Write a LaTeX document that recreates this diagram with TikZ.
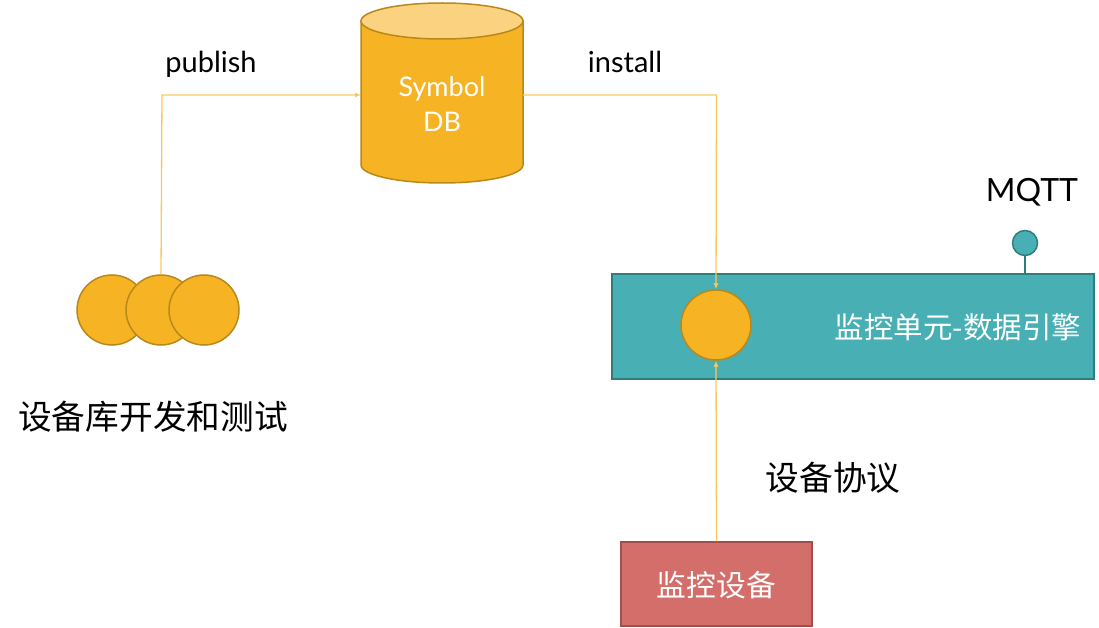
\documentclass[tikz,border=0pt]{standalone}
\usepackage{fontspec}
\setmainfont{Lato}
\newfontfamily\cjk{Noto Sans CJK SC}
\usetikzlibrary{arrows.meta,shapes.geometric}
\definecolor{gold}{HTML}{F6B324}
\definecolor{goldtop}{HTML}{FBD27F}
\definecolor{goldedge}{HTML}{B8891A}
\definecolor{linec}{HTML}{FBC75A}
\definecolor{teal}{HTML}{48B0B4}
\definecolor{tealedge}{HTML}{2E7D7F}
\definecolor{redf}{HTML}{D46E6A}
\definecolor{rede}{HTML}{A0504A}
\tikzset{
  coin/.style={circle,fill=gold,draw=goldedge,line width=1.5pt,minimum size=70pt,inner sep=0pt},
  conn/.style={draw=linec,line width=1.3pt},
  arr/.style={conn,-{Latex[length=6pt,width=5pt]}},
  lbl/.style={font=\fontsize{29}{33}\selectfont,text=black},
  cjklbl/.style={font=\cjk\fontsize{33.7}{38}\selectfont,text=black},
}
\begin{document}
\begin{tikzpicture}[x=1pt,y=-1pt]
\useasboundingbox (0,0) rectangle (1099,628);
% cylinder
\path[fill=gold,draw=goldedge,line width=1.5pt]
  (361,21) -- (361,165) arc[start angle=180,end angle=0,x radius=81,y radius=18] -- (523,21) -- cycle;
\path[fill=goldtop,draw=goldedge,line width=1.5pt] (442,21) ellipse[x radius=81,y radius=18];
\node[inner sep=0pt,minimum width=162pt,minimum height=120pt] (db) at (442,95) {};
\node[font=\fontsize{27}{35}\selectfont,text=white,align=center] (dbt) at (442,104) {Symbol\\DB};
% left coins
\node[coin] (c1) at (112,310) {};
\node[coin] (c2) at (161,310) {};
\node[coin] (c3) at (204,310) {};
\node[cjklbl] (devlib) at (153,417) {设备库开发和测试};
% publish
\coordinate (pubcorner) at (162,95);
\draw[arr] (c2.north) -- (pubcorner) -- (361,95);
\node[lbl] (pub) at (211,64) {publish};
% teal box
\node[draw=tealedge,fill=teal,line width=2pt,minimum width=482pt,minimum height=105pt,inner sep=0pt] (unit) at (853,326.5) {};
\node[font=\cjk\fontsize{29.5}{33}\selectfont,text=white] (unitt) at (958,327) {监控单元-数据引擎};
\node[coin] (ic) at (716,325) {};
% install
\coordinate (instcorner) at (716.5,95);
\draw[arr] (523,95) -- (instcorner) -- (ic.north);
\node[lbl] (inst) at (625,62) {install};
% MQTT
\node[circle,fill=teal,draw=tealedge,line width=1.5pt,minimum size=25pt,inner sep=0pt] (mq) at (1025,243) {};
\draw[draw=tealedge,line width=2pt] (mq.south) -- (1025,274);
\node[font=\fontsize{32}{36}\selectfont] (mqt) at (1032,192) {MQTT};
% device
\node[draw=rede,fill=redf,line width=1.5pt,minimum width=191pt,minimum height=84pt,inner sep=0pt] (dev) at (716.5,584) {};
\node[font=\cjk\fontsize{29.8}{33}\selectfont,text=white] (devt) at (716.5,585) {监控设备};
\draw[arr] (dev.north) -- (ic.south);
\node[cjklbl] (proto) at (833,478) {设备协议};
\end{tikzpicture}
\end{document}
